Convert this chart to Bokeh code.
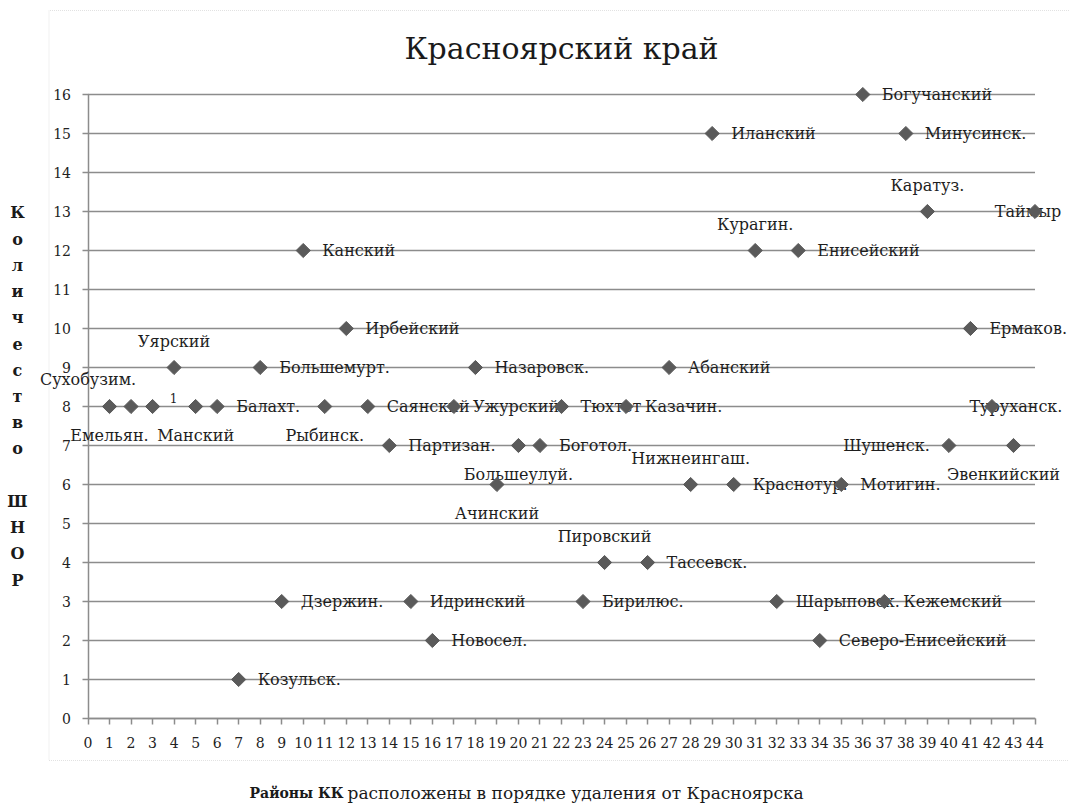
import numpy as np
from bokeh.plotting import figure
from bokeh.models import (ColumnDataSource, LabelSet, Label, Range1d, FixedTicker,
                          PolyAnnotation, LinearAxis)
from bokeh.core.properties import value
from bokeh.embed import file_html
from bokeh.resources import INLINE

# ---------------- data ----------------
rank = list(range(1, 45))
shnor = [8, 8, 8, 9, 8, 8, 1, 9, 3, 12, 8, 10, 8, 7, 3, 2, 8, 9, 6, 7, 7, 8,
         3, 4, 8, 4, 9, 6, 15, 6, 12, 3, 12, 2, 6, 16, 3, 15, 13, 7, 10, 8, 7, 13]
district = ["Емельян.", "Сухобузим.", "1", "Уярский", "Манский", "Балахт.",
            "Козульск.", "Большемурт.", "Дзержин.", "Канский", "Рыбинск.",
            "Ирбейский", "Саянский", "Партизан.", "Идринский", "Новосел.",
            "Ужурский", "Назаровск.", "Ачинский", "Большеулуй.", "Боготол.",
            "Тюхтет", "Бирилюс.", "Пировский", "Казачин.", "Тассевск.",
            "Абанский", "Нижнеингаш.", "Иланский", "Краснотур.", "Курагин.",
            "Шарыповск.", "Енисейский", "Северо-Енисейский", "Мотигин.",
            "Богучанский", "Кежемский", "Минусинск.", "Каратуз.", "Шушенск.",
            "Ермаков.", "Туруханск.", "Эвенкийский", "Таймыр"]
x_ticks = list(range(0, 45))
y_ticks = list(range(0, 17))

title_text = "Красноярский край"
y_title = "Количество ШНОР"
x_title_bold = "Районы КК"
x_title_rest = "расположены в порядке удаления от Красноярска"

# ---------------- label placement (style) ----------------
placement = {
    "Емельян.": "below", "Манский": "below", "Рыбинск.": "below",
    "Ачинский": "below", "Большеулуй.": "below",
    "Уярский": "above", "Нижнеингаш.": "above", "Пировский": "above",
    "Курагин.": "above", "Каратуз.": "above",
    "Шушенск.": "left",
}
PLACE = {
    "right": ("left", 19, 0),
    "left": ("right", -19, 0),
    "above": ("center", 0, -26),
    "below": ("center", 0, 29),
}
custom = {
    "Сухобузим.": ("center", -43, -27),
    "1": ("center", 21, -9),
    "Туруханск.": ("center", 24, 0),
    "Таймыр": ("center", -7, 0),
    "Эвенкийский": ("center", -10, 29),
}

aligns, dxs, dys, sizes = [], [], [], []
for name in district:
    if name in custom:
        a, dx, dy = custom[name]
    else:
        a, dx, dy = PLACE[placement.get(name, "right")]
    aligns.append(a)
    dxs.append(dx)
    dys.append(-dy)
    sizes.append("12px" if name == "1" else "16px")

src = ColumnDataSource(dict(x=rank, y=shnor, name=district, align=aligns,
                            dx=dxs, dy=dys, fs=sizes))

FONT = '"DejaVu Serif"'
W, H = 1069, 805
# plot-area geometry inside the canvas (pixels)
AL, AR, AT, AB = 87.5, 1034.5, 94.0, 718.0

xr0, xr1 = x_ticks[0], x_ticks[-1]
yr0, yr1 = y_ticks[0], y_ticks[-1]
kx = (AR - AL) / (xr1 - xr0)   # px per x unit
ky = (AB - AT) / (yr1 - yr0)   # px per y unit

p = figure(width=W, height=H, output_backend="svg", toolbar_location=None,
           x_range=Range1d(xr0 - AL / kx, xr1 + (W - AR) / kx),
           y_range=Range1d(yr0 - (H - AB) / ky, yr1 + AT / ky),
           x_axis_location=None, y_axis_location=None,
           min_border=0)
p.outline_line_color = None
p.background_fill_color = "white"
p.border_fill_color = "white"
p.grid.visible = False

# horizontal grid lines, only across the plot area
p.segment(x0=xr0, x1=xr1, y0=y_ticks, y1=y_ticks,
          line_color="#8c8c8c", line_width=1.5)

# axes fixed at the origin
xax = LinearAxis(fixed_location=yr0, bounds=(xr0, xr1),
                 ticker=FixedTicker(ticks=x_ticks))
yax = LinearAxis(fixed_location=xr0, bounds=(yr0, yr1),
                 ticker=FixedTicker(ticks=y_ticks))
for ax in (xax, yax):
    ax.axis_line_color = "#8c8c8c"
    ax.axis_line_width = 1.5
    ax.major_tick_line_color = "#8c8c8c"
    ax.major_tick_line_width = 1.5
    ax.major_tick_out = 6
    ax.major_tick_in = 0
    ax.minor_tick_line_color = None
    ax.major_label_text_font = FONT
    ax.major_label_text_font_size = "14px"
    ax.major_label_text_color = "#222222"
xax.major_label_standoff = 12
yax.major_label_standoff = 11
p.add_layout(xax, "below")
p.add_layout(yax, "left")

# labels (under the markers)
labels = LabelSet(x="x", y="y", text="name", source=src,
                  x_offset="dx", y_offset="dy",
                  text_align="align", text_baseline="middle",
                  text_font=value(FONT), text_font_size="fs",
                  text_color="#1e1e1e")
p.add_layout(labels)

# markers
p.scatter("x", "y", source=src, marker="square", angle=np.pi / 4, size=10,
          fill_color="#5a5a5a", line_color="#5a5a5a", level="overlay")

# title
p.add_layout(Label(x=(xr0 + xr1) / 2, y=yr1, y_offset=46, text=title_text,
                   text_align="center", text_baseline="middle",
                   text_font=FONT, text_font_size="30px", text_color="#1a1a1a"))

# y axis title (stacked letters)
words = y_title.split(" ")
stacked = "\n".join(list(words[0])) + "\n\n" + "\n".join(list(words[1]))
p.add_layout(Label(x=xr0, y=(yr0 + yr1) / 2, x_offset=-70.5, y_offset=10,
                   text=stacked, text_align="center", text_baseline="middle",
                   text_font=FONT, text_font_size="16px", text_font_style="bold",
                   text_line_height=1.38, text_color="#1a1a1a"))

# x axis title
p.add_layout(Label(x=xr0, y=yr0, x_offset=255.5, y_offset=-74, text=x_title_bold,
                   text_align="right", text_baseline="middle",
                   text_font=FONT, text_font_size="14px", text_font_style="bold",
                   text_color="#1a1a1a"))
p.add_layout(Label(x=xr0, y=yr0, x_offset=259.5, y_offset=-74, text=x_title_rest,
                   text_align="left", text_baseline="middle",
                   text_font=FONT, text_font_size="17px", text_color="#1a1a1a"))

# dotted chart-area border
bl, br = xr0 - 39 / kx, xr1 + 40 / kx
bt, bb = yr1 + 84 / ky, yr0 - 42 / ky
p.add_layout(PolyAnnotation(xs=[br, bl, bl, br], ys=[bt, bt, bb, bb],
                            fill_color=None, line_color="#a0a0a0",
                            line_dash="1 1", line_width=1, level="underlay"))

open("out.html", "w").write(file_html(p, INLINE))
